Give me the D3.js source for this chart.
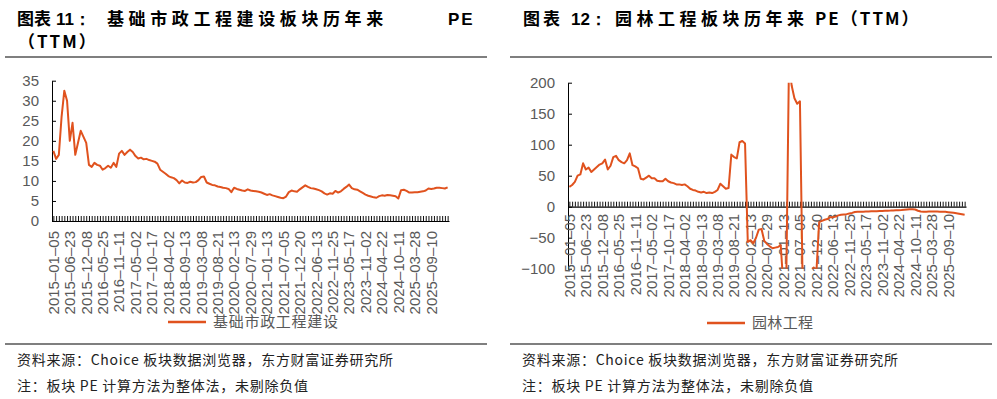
<!DOCTYPE html>
<html>
<head>
<meta charset="utf-8">
<script src="https://cdn.jsdelivr.net/npm/d3@7"></script>
<style>
  body { margin: 0; background: #fff; }
  svg { display: block; }
</style>
</head>
<body>
<script>
// tick labels on the category axis (one every 6 samples)
const tickDates = [
  "2015-01-05", "2015-06-23", "2015-12-08", "2016-05-25", "2016-11-11", "2017-05-02",
  "2017-10-17", "2018-04-02", "2018-09-13", "2019-03-08", "2019-08-21", "2020-02-13",
  "2020-07-29", "2021-01-13", "2021-07-05", "2021-12-20", "2022-06-13", "2022-11-25",
  "2023-05-17", "2023-11-02", "2024-04-22", "2024-10-11", "2025-03-28", "2025-09-10"
];
const samplesPerTick = 6;

// 基础市政工程建设 PE(TTM)
const civilPE = [
  17.5, 15.5, 16.5, 26.0, 32.5, 30.0, 20.0, 24.5, 16.5, 19.5,
  22.5, 21.0, 19.5, 14.0, 13.5, 14.5, 14.0, 13.8, 12.8, 13.2,
  13.8, 13.3, 14.5, 13.5, 16.8, 17.5, 16.5, 17.2, 17.8, 17.2,
  16.2, 15.6, 15.8, 15.4, 15.5, 15.2, 15.0, 14.8, 14.3, 12.8,
  12.3, 11.8, 11.2, 10.9, 10.7, 10.2, 9.4, 10.1, 9.6, 9.5,
  9.8, 9.6, 9.7, 10.2, 11.0, 11.1, 9.6, 9.3, 9.0, 8.9,
  8.6, 8.5, 8.3, 8.2, 8.0, 7.2, 8.3, 8.0, 7.8, 7.6,
  7.5, 7.9, 7.6, 7.5, 7.4, 7.3, 7.1, 6.8, 6.5, 6.7,
  6.4, 6.2, 6.0, 5.8, 5.7, 6.1, 7.2, 7.6, 7.4, 7.3,
  7.9, 8.4, 8.9, 8.5, 8.2, 8.1, 7.9, 7.7, 7.4, 6.9,
  6.6, 6.9, 6.8, 7.5, 7.1, 7.4, 8.0, 8.5, 9.1, 8.2,
  7.9, 7.8, 7.4, 7.0, 6.6, 6.3, 6.1, 5.9, 5.8, 6.2,
  6.4, 6.3, 6.5, 6.4, 6.3, 6.2, 5.6, 7.7, 7.8, 7.5,
  7.1, 7.1, 7.2, 7.2, 7.3, 7.4, 7.6, 8.1, 8.0, 8.1,
  8.3, 8.3, 8.2, 8.1, 8.4
];

// 园林工程 PE(TTM) (values beyond the axis are clipped)
const gardenPE = [
  32, 35, 40, 50, 52, 70, 60, 63, 56, 60,
  64, 68, 70, 76, 60, 66, 80, 82, 75, 72,
  70, 75, 86, 67, 65, 62, 45, 44, 47, 50,
  46, 46, 42, 41, 41, 45, 41, 39, 38, 36,
  36, 35, 36, 33, 29, 27, 26, 24, 23, 24,
  22, 23, 22, 24, 27, 37, 33, 29, 30, 84,
  80, 78, 104, 106, 102, -57, -54, -59, -50, -37,
  -36, -55, -60, -64, -67, -66, -65, -62, -130, -125,
  230, 195, 175, 166, 170, -130, -135, -128, -105, -98,
  -105, -25, -23, -21, -20, -17, -17, -16, -14, -13,
  -12.5, -12, -11, -10, -8.5, -8, -8, -8, -7.8, -7.8,
  -7.5, -7.5, -7.3, -7, -6.8, -6.6, -6.5, -6.3, -6, -5.8,
  -5.6, -5.4, -5, -4.6, -4.3, -4.2, -4.5, -6.5, -7.8, -8,
  -8, -7.8, -7.6, -7.7, -7.8, -8, -8, -8.3, -8.8, -9.3,
  -9.8, -10.5, -11.3, -12.2, -13
];

const civilYTicks = [0, 5, 10, 15, 20, 25, 30, 35];
const gardenYTicks = [-100, -50, 0, 50, 100, 150, 200];

const lineColor = "#E0521E";
const labelColor = "#595959";
const latinFont = "'Liberation Sans', Arial, sans-serif";
const cjkFont = "'Noto Sans CJK SC', sans-serif";

const svg = d3.select("body").append("svg")
  .attr("width", 997)
  .attr("height", 399);

function drawPanel(cfg) {
  const n = cfg.values.length;
  const x = d3.scaleLinear().domain([-0.5, n - 0.5]).range([cfg.left, cfg.right]);
  const y = d3.scaleLinear().domain(cfg.yDomain).range([cfg.bottom, cfg.top]);

  const g = svg.append("g");

  // y axis, ticks pointing inside
  const yAxis = g.append("g")
    .attr("transform", `translate(${cfg.left},0)`)
    .call(d3.axisLeft(y).tickValues(cfg.yTicks).tickSize(-4).tickSizeOuter(0).tickPadding(13));
  yAxis.select(".domain").attr("stroke", "#000");
  yAxis.selectAll(".tick line").attr("stroke", "#000");
  yAxis.selectAll("text")
    .attr("fill", labelColor)
    .style("font-family", latinFont)
    .style("font-size", "15px")
    .text(d => d < 0 ? "\u2212" + Math.abs(d) : d);

  // category axis at zero, one tick per sample gives the dense hatch
  const xAxis = g.append("g")
    .attr("transform", `translate(0,${y(0)})`)
    .call(d3.axisBottom(x).tickValues(d3.range(n)).tickSize(-5).tickSizeOuter(0).tickFormat(""));
  xAxis.select(".domain").attr("stroke", "#000").attr("stroke-width", 1.2);
  xAxis.selectAll(".tick line").attr("stroke", "#111").attr("stroke-width", 1);

  // rotated date labels
  g.append("g").selectAll("text")
    .data(tickDates)
    .join("text")
    .attr("transform", (d, i) => `translate(${x(i * samplesPerTick)},${cfg.labelTop}) rotate(-90)`)
    .attr("text-anchor", "end")
    .attr("dy", "0.36em")
    .attr("fill", labelColor)
    .style("font-family", latinFont)
    .style("font-size", "15px")
    .text(d => d.replace(/-/g, "\u2013"));

  // series line, clipped to the plot area
  svg.append("clipPath").attr("id", cfg.id + "-clip")
    .append("rect")
    .attr("x", cfg.left)
    .attr("y", cfg.top)
    .attr("width", cfg.right - cfg.left)
    .attr("height", cfg.bottom - cfg.top);

  g.append("path")
    .datum(cfg.values)
    .attr("clip-path", `url(#${cfg.id}-clip)`)
    .attr("fill", "none")
    .attr("stroke", lineColor)
    .attr("stroke-width", 2)
    .attr("stroke-linejoin", "round")
    .attr("d", d3.line().x((d, i) => x(i)).y(d => y(d)));

  // legend
  g.append("line")
    .attr("x1", cfg.legendX).attr("x2", cfg.legendX + 38)
    .attr("y1", cfg.legendY).attr("y2", cfg.legendY)
    .attr("stroke", lineColor).attr("stroke-width", 2.5);
  g.append("text")
    .attr("x", cfg.legendX + 45)
    .attr("y", cfg.legendY)
    .attr("dy", "0.35em")
    .attr("fill", labelColor)
    .style("font-family", cjkFont)
    .style("font-size", "15px")
    .attr("textLength", cfg.legendLen)
    .attr("lengthAdjust", "spacing")
    .text(cfg.name);
}

drawPanel({
  id: "civil", name: "基础市政工程建设", values: civilPE,
  left: 52, right: 449, top: 80.7, bottom: 221,
  yDomain: [0, 35], yTicks: civilYTicks,
  labelTop: 231, legendX: 168, legendY: 322, legendLen: 125
});

drawPanel({
  id: "garden", name: "园林工程", values: gardenPE,
  left: 568, right: 966, top: 82.7, bottom: 268.7,
  yDomain: [-100, 200], yTicks: gardenYTicks,
  labelTop: 214, legendX: 707, legendY: 323, legendLen: 61
});

// titles
function titleLine(y0, parts) {
  const t = svg.append("text")
    .attr("y", y0)
    .attr("fill", "#000")
    .style("font-family", cjkFont)
    .style("font-weight", "bold")
    .style("font-size", "17px");
  parts.forEach(p => {
    t.append("tspan")
      .attr("x", p.x)
      .style("letter-spacing", p.ls + "px")
      .style("font-family", p.latin ? latinFont : cjkFont)
      .text(p.text);
  });
}

titleLine(25, [
  { x: 17, text: "图表", ls: 0 },
  { x: 56, text: "11：", ls: 0, latin: true },
  { x: 107, text: "基础市政工程建设板块历年来", ls: 4.6 },
  { x: 448, text: "PE", ls: 2, latin: true }
]);
titleLine(48, [
  { x: 18, text: "（TTM）", ls: 2 }
]);
titleLine(25, [
  { x: 523, text: "图表", ls: 3 },
  { x: 571, text: "12：", ls: 0, latin: true },
  { x: 615, text: "园林工程板块历年来", ls: 4.5 },
  { x: 815, text: "PE（TTM）", ls: 2 }
]);

// separators
[[5, 487], [510, 992]].forEach(([a, b]) => {
  svg.append("line").attr("x1", a).attr("x2", b).attr("y1", 57).attr("y2", 57)
    .attr("stroke", "#000").attr("stroke-width", 1.2);
  svg.append("line").attr("x1", a).attr("x2", b).attr("y1", 344).attr("y2", 344)
    .attr("stroke", "#000").attr("stroke-width", 1.2);
});

// footnotes
const notes = [
  { text: "资料来源：Choice 板块数据浏览器，东方财富证券研究所", y: 360, len: 376 },
  { text: "注：板块 PE 计算方法为整体法，未剔除负值", y: 386, len: 291 }
];
[17, 522].forEach(x0 => {
  notes.forEach(n => {
    svg.append("text")
      .attr("x", x0)
      .attr("y", n.y)
      .attr("dy", "0.35em")
      .attr("fill", "#222")
      .style("font-family", cjkFont)
      .style("font-size", "14px")
      .attr("textLength", n.len)
      .attr("lengthAdjust", "spacing")
      .text(n.text);
  });
});
</script>
</body>
</html>
